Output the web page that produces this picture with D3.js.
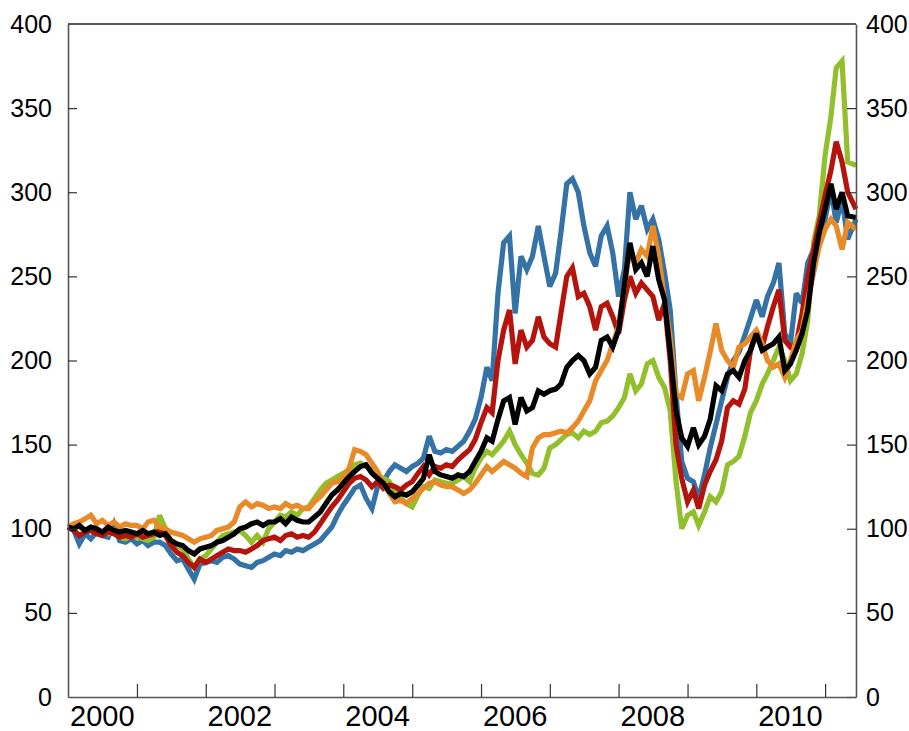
<!DOCTYPE html>
<html>
<head>
<meta charset="utf-8">
<script src="https://cdn.jsdelivr.net/npm/d3@7/dist/d3.min.js"></script>
<style>
  html, body { margin: 0; padding: 0; background: #fff; }
  svg { display: block; }
  text { font-family: "Liberation Sans", Arial, Helvetica, sans-serif; fill: #000; }
</style>
</head>
<body>
<svg id="chart" width="909" height="731"></svg>
<script>
// ---- data (monthly index values, Jan 2000 = 100) ----
const blue = [
  101, 99, 91, 97, 94, 98, 96, 95, 103, 93, 92, 94,
  91, 93, 90, 92, 92, 90, 85, 81, 82, 76, 70, 79,
  80, 81, 80, 83, 84, 82, 79, 78, 77, 80, 81, 83,
  85, 84, 87, 86, 88, 87, 89, 91, 93, 97, 101, 108,
  114, 119, 124, 126, 118, 112, 125, 128, 134, 138, 136, 134,
  137, 139, 142, 155, 146, 145, 147, 146, 149, 152, 158, 165,
  178, 196, 188, 240, 270, 274, 228, 262, 254, 262, 280, 262,
  244, 252, 276, 305, 308, 300, 280, 264, 256, 274, 280, 264,
  238, 254, 300, 284, 292, 278, 284, 272, 252, 230, 180, 140,
  130, 128, 118, 132, 148, 162, 176, 190, 200, 205, 215, 225,
  236, 226, 238, 246, 258, 216, 210, 240, 234, 258, 266, 272,
  284, 302, 282, 296, 272, 284
];
const red = [
  101, 99, 96, 98, 99, 97, 96, 98, 97, 95, 96, 95,
  97, 95, 96, 97, 99, 96, 90, 86, 84, 80, 77, 82,
  80, 82, 84, 86, 88, 87, 87, 86, 88, 90, 93, 94,
  95, 93, 96, 97, 95, 96, 95, 98, 103, 108, 113, 117,
  122, 127, 130, 131, 129, 125, 128, 124, 126, 125, 123, 126,
  128, 133, 137, 132, 137, 136, 138, 137, 141, 144, 147, 153,
  163, 172, 169, 200, 218, 230, 198, 218, 208, 212, 226, 214,
  210, 208, 228, 250, 255, 238, 240, 232, 218, 232, 234, 226,
  216, 236, 250, 240, 246, 242, 238, 224, 234, 200, 150, 130,
  116, 123, 112, 126, 134, 141, 152, 172, 176, 174, 183, 206,
  218, 208, 220, 232, 242, 212, 208, 210, 228, 250, 266, 282,
  298, 313, 330, 318, 300, 290
];
const orange = [
  101, 103, 104, 106, 108, 103, 105, 102, 104, 101, 103, 102,
  102, 100, 104, 105, 101, 100, 98, 97, 96, 94, 92, 94,
  95, 96, 99, 100, 101, 104, 113, 116, 113, 115, 114, 112,
  113, 112, 115, 113, 114, 112, 112, 116, 119, 123, 127, 128,
  131, 136, 147, 146, 144, 139, 134, 127, 121, 116, 117, 115,
  118, 121, 124, 127, 128, 126, 125, 125, 123, 121, 123, 127,
  132, 137, 134, 137, 140, 138, 136, 133, 131, 148, 154, 156,
  156, 157, 158, 157, 160, 164, 170, 176, 188, 194, 200, 210,
  220, 244, 266, 258, 266, 262, 280, 262, 236, 214, 180, 178,
  192, 194, 176, 190, 205, 222, 206, 200, 196, 208, 210, 214,
  218, 210, 200, 196, 198, 190, 200, 212, 218, 236, 252, 268,
  278, 284, 280, 266, 282, 278
];
const green = [
  101, 102, 101, 99, 100, 98, 98, 97, 99, 95, 94, 96,
  95, 94, 93, 95, 108, 100, 92, 90, 88, 82, 77, 82,
  84, 88, 92, 96, 97, 98, 99, 96, 92, 96, 92, 100,
  104, 108, 107, 110, 108, 112, 113, 118, 123, 127, 129, 131,
  133, 135, 138, 139, 137, 135, 131, 130, 128, 123, 118, 115,
  113, 120, 125, 124, 129, 128, 127, 127, 129, 131, 128, 136,
  142, 146, 144, 148, 152, 158, 150, 144, 139, 133, 132, 136,
  148, 150, 153, 156, 157, 154, 158, 156, 158, 163, 164, 167,
  172, 178, 192, 182, 186, 198, 200, 190, 184, 170, 128, 100,
  108, 110, 102, 110, 119, 116, 122, 138, 140, 143, 155, 169,
  176, 186, 192, 200, 208, 200, 188, 192, 204, 224, 270, 286,
  322, 345, 374, 378, 318, 316
];
const black = [
  101, 100, 102, 99, 101, 100, 98, 101, 99, 98, 99, 98,
  97, 99, 97, 98, 96, 97, 93, 91, 90, 87, 85, 88,
  89, 90, 92, 93, 95, 97, 100, 101, 103, 104, 102, 104,
  104, 106, 103, 107, 105, 104, 104, 107, 110, 115, 120, 123,
  127, 131, 134, 137, 138, 133, 130, 127, 122, 119, 121, 120,
  122, 126, 130, 144, 134, 132, 131, 130, 132, 131, 134, 140,
  146, 154, 152, 165, 176, 178, 162, 178, 170, 172, 182, 180,
  182, 183, 186, 196, 200, 203, 200, 192, 196, 212, 214, 208,
  218, 245, 270, 254, 258, 250, 268, 248, 236, 205, 170, 154,
  149, 160, 150, 155, 165, 185, 182, 192, 194, 190, 200, 206,
  216, 206, 208, 210, 214, 194, 198, 206, 216, 230, 258, 276,
  290, 305, 290, 300, 286, 285
];
const yTicks = [0, 50, 100, 150, 200, 250, 300, 350, 400];
const yearLabels = [2000, 2002, 2004, 2006, 2008, 2010];
const seriesNames = ["blue", "green", "red", "orange", "black"];
const seriesColors = {
  blue: "#3572a6",
  green: "#92bf2c",
  red: "#b5140c",
  orange: "#e88a27",
  black: "#000000"
};
const seriesData = { blue, green, red, orange, black };

(function () {
  const startDate = new Date(2000, 0, 1);
  const endDate = new Date(2011, 5, 14);
  const dates = d3.timeMonth.range(startDate, new Date(2011, 5, 1));
  dates.push(endDate);

  const svg = d3.select("#chart");
  const pl = 68, pr = 856, pt = 24, pb = 697;

  const x = d3.scaleTime().domain([startDate, endDate]).range([pl, pr]);
  const y = d3.scaleLinear().domain([0, 400]).range([pb, pt]);

  const line = d3.line()
    .x((d, i) => x(dates[i]))
    .y(d => y(d));

  const gLines = svg.append("g");
  seriesNames.forEach(name => {
    gLines.append("path")
      .datum(seriesData[name])
      .attr("fill", "none")
      .attr("stroke", seriesColors[name])
      .attr("stroke-width", 5.2)
      .attr("stroke-linejoin", "miter")
      .attr("stroke-miterlimit", 3)
      .attr("d", line);
  });

  const axisColor = "#555";
  const leftAxis = svg.append("g")
    .attr("transform", `translate(${pl},0)`)
    .call(d3.axisLeft(y).tickValues(yTicks).tickSizeInner(-9).tickSizeOuter(0).tickPadding(16));
  const rightAxis = svg.append("g")
    .attr("transform", `translate(${pr},0)`)
    .call(d3.axisRight(y).tickValues(yTicks).tickSizeInner(-9).tickSizeOuter(0).tickPadding(10));

  [leftAxis, rightAxis].forEach(g => {
    g.select(".domain").attr("stroke", axisColor).attr("stroke-width", 1.6);
    g.selectAll(".tick line").attr("stroke", "#333").attr("stroke-width", 1.2);
    g.selectAll(".tick text")
      .style("font-family", '"Liberation Sans", Arial, sans-serif')
      .style("font-size", "25px")
      .attr("fill", "#000");
  });
  leftAxis.selectAll(".tick").filter(d => d === 0 || d === 400).select("line").remove();
  rightAxis.selectAll(".tick").filter(d => d === 400).select("line").remove();

  const yearTicks = d3.timeYear.range(new Date(2001, 0, 1), new Date(2012, 0, 1));
  const bottomAxis = svg.append("g")
    .attr("transform", `translate(0,${pb})`)
    .call(d3.axisBottom(x).tickValues(yearTicks).tickSizeInner(-13).tickSizeOuter(0).tickFormat(""));
  bottomAxis.select(".domain").attr("stroke", axisColor).attr("stroke-width", 1.6);
  bottomAxis.selectAll(".tick line").attr("stroke", "#333").attr("stroke-width", 1.2);

  svg.append("line")
    .attr("x1", pl).attr("x2", pr)
    .attr("y1", pt).attr("y2", pt)
    .attr("stroke", "#222").attr("stroke-width", 1.4);

  svg.append("g").selectAll("text")
    .data(yearLabels)
    .join("text")
    .attr("x", d => x(new Date(d, 6, 1)))
    .attr("y", 726)
    .attr("text-anchor", "middle")
    .style("font-size", "29px")
    .text(d => d);
})();
</script>
</body>
</html>
